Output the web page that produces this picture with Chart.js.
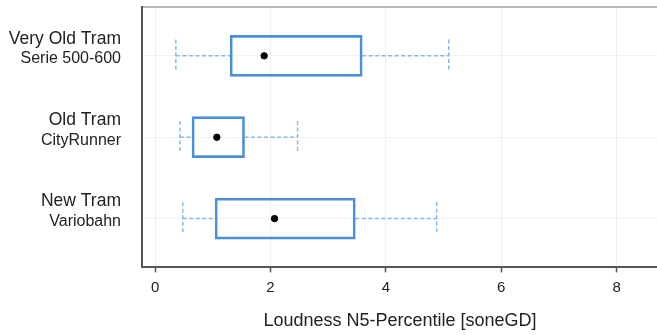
<!DOCTYPE html>
<html>
<head>
<meta charset="utf-8">
<script src="https://cdn.jsdelivr.net/npm/chart.js@4/dist/chart.umd.min.js"></script>
<style>
  html, body { margin: 0; padding: 0; background: #fff; overflow: hidden; }
  #wrap { width: 657px; height: 335px; }
</style>
</head>
<body>
<div id="wrap"><canvas id="loudness-chart" width="657" height="335"></canvas></div>
<script>
// ── Data ──────────────────────────────────────────────
const tramNames  = ['Very Old Tram', 'Old Tram', 'New Tram'];
const tramModels = ['Serie 500-600', 'CityRunner', 'Variobahn'];
const whiskerLow = [0.36, 0.43, 0.48];
const boxLow     = [1.30, 0.64, 1.04];
const boxHigh    = [3.59, 1.55, 3.47];
const whiskerHigh= [5.09, 2.47, 4.88];
const means      = [1.89, 1.07, 2.07];
const xTicks     = [0, 2, 4, 6, 8];

const BOX_COLOR   = '#4a90d9';
const WHISK_COLOR = '#84bbea';
const CAP = 0.2;   // half cap height, in category units

const datasets = [];

// boxes (floating bars)
datasets.push({
  type: 'bar',
  indexAxis: 'y',
  data: tramNames.map((t, i) => ({ x: [boxLow[i], boxHigh[i]], y: i })),
  backgroundColor: 'transparent',
  borderColor: BOX_COLOR,
  borderWidth: 2,
  borderSkipped: false,
  barThickness: 41,
  order: 1,
});

// whiskers + caps
function seg(points) {
  return {
    type: 'line',
    data: points,
    borderColor: WHISK_COLOR,
    borderWidth: 1.5,
    borderDash: [4, 2.5],
    pointRadius: 0,
    fill: false,
    tension: 0,
    order: 2,
  };
}
tramNames.forEach((t, i) => {
  datasets.push(seg([{ x: whiskerLow[i], y: i }, { x: boxLow[i], y: i }]));
  datasets.push(seg([{ x: boxHigh[i], y: i }, { x: whiskerHigh[i], y: i }]));
  datasets.push(seg([{ x: whiskerLow[i], y: i - CAP }, { x: whiskerLow[i], y: i + CAP }]));
  datasets.push(seg([{ x: whiskerHigh[i], y: i - CAP }, { x: whiskerHigh[i], y: i + CAP }]));
});

// means
datasets.push({
  type: 'scatter',
  data: tramNames.map((t, i) => ({ x: means[i], y: i })),
  backgroundColor: '#000',
  borderColor: '#000',
  pointRadius: 3.2,
  order: 0,
});

const FONT = 'Liberation Sans, Arial, Helvetica, sans-serif';
const rowTicks = s => { s.ticks = tramNames.map((t, i) => ({ value: i })); };

new Chart(document.getElementById('loudness-chart'), {
  type: 'scatter',
  data: { datasets },
  options: {
    responsive: false,
    animation: false,
    devicePixelRatio: 1,
    layout: { autoPadding: false, padding: { top: 7, right: 0, bottom: 3, left: 0 } },
    plugins: { legend: { display: false }, tooltip: { enabled: false } },
    scales: {
      x: {
        type: 'linear',
        position: 'bottom',
        offset: false,
        min: -0.21,
        max: 8.7,
        afterBuildTicks: s => { s.ticks = xTicks.map(v => ({ value: v })); },
        afterFit: s => { s.paddingRight = 0; s.paddingLeft = 0; },
        grid: { offset: false, color: '#efefef', tickLength: 5, tickColor: '#555', tickWidth: 1.5 },
        border: { color: '#555', width: 2 },
        ticks: { color: '#222', font: { family: FONT, size: 15 }, padding: 6 },
        title: {
          display: true,
          text: 'Loudness N5-Percentile [soneGD]',
          color: '#222',
          font: { family: FONT, size: 18 },
          padding: { top: 8, bottom: 0 },
        },
      },
      xTop: {
        type: 'linear',
        position: 'top',
        offset: false,
        afterFit: s => { s.paddingRight = 0; s.paddingLeft = 0; },
        grid: { display: false, drawTicks: false, tickLength: 0 },
        ticks: { display: false },
        border: { color: '#b8b8b8', width: 2 },
      },
      y: {
        type: 'linear',
        reverse: true,
        offset: false,
        min: -0.6,
        max: 2.6,
        weight: 1,
        afterBuildTicks: rowTicks,
        afterFit: s => { s.width = 142; s.paddingTop = 0; s.paddingBottom = 0; },
        grid: { offset: false, color: '#f2f2f2', drawTicks: false },
        border: { color: '#555', width: 2 },
        ticks: {
          color: '#222',
          font: { family: FONT, size: 17.5 },
          padding: 21,
          labelOffset: -17,
          callback: v => tramNames[v],
        },
      },
      // second label line: a 1px axis next to the plot, labels allowed to spill left
      yModel: {
        type: 'linear',
        position: 'left',
        reverse: true,
        offset: false,
        min: -0.6,
        max: 2.6,
        weight: -1,
        afterBuildTicks: rowTicks,
        afterFit: s => {
          s.width = 1; s.paddingTop = 0; s.paddingBottom = 0;
          s._computeLabelArea = () => null;
        },
        grid: { display: false, drawTicks: false },
        border: { display: false },
        ticks: {
          color: '#222',
          font: { family: FONT, size: 16 },
          padding: 22,
          labelOffset: 3,
          callback: v => tramModels[v],
        },
      },
    },
  },
});
</script>
</body>
</html>
